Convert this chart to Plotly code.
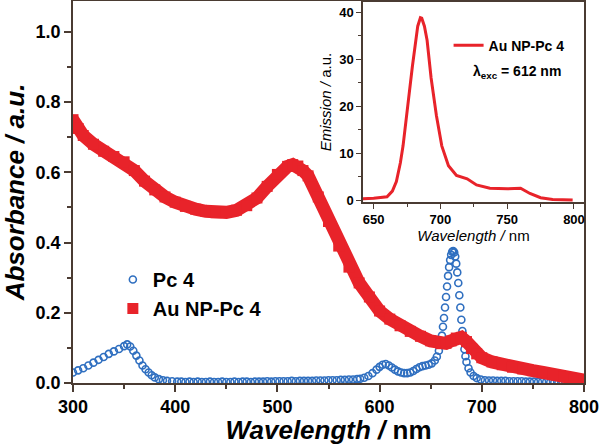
import plotly.graph_objects as go

# ---------------- data ----------------
pc4_wl = [300, 305, 310, 315, 320, 325, 330, 335, 340, 345, 350, 353, 356, 359, 362, 365, 368, 371, 374, 377,
          380, 384, 388, 392, 397, 402, 406, 410, 414, 418, 422, 426, 430, 434, 438, 442, 446, 450, 454, 458,
          462, 466, 470, 474, 478, 482, 486, 490, 494, 498, 502, 506, 510, 514, 518, 522, 526, 530, 534, 538,
          542, 546, 550, 554, 558, 562, 566, 570, 574, 578, 581, 585, 589, 593, 597,
          600, 603, 606, 609, 612, 615, 618, 621, 624, 627, 630, 633, 636, 639, 642, 645, 648, 651, 654, 656,
          658, 660, 661, 662, 663, 664, 665, 666, 667, 668, 669, 670, 671, 672, 673, 674, 675, 676, 677, 678,
          679, 680, 681, 682, 683, 684, 685, 687, 689, 692, 695, 699, 703, 707, 711, 715, 719, 723, 727, 731,
          735, 739, 743, 747, 751, 755, 759, 763, 767, 771, 775, 779]
pc4_abs = [0.030, 0.036, 0.042, 0.050, 0.058, 0.066, 0.074, 0.083, 0.090, 0.097, 0.105, 0.110, 0.104, 0.092, 0.078,
           0.064, 0.050, 0.039, 0.030, 0.022, 0.016, 0.011, 0.008, 0.006, 0.005, 0.004, 0.004, 0.003, 0.004, 0.003,
           0.004, 0.003, 0.003, 0.004, 0.003, 0.003, 0.004, 0.003, 0.003, 0.004, 0.003, 0.004, 0.004, 0.003, 0.004,
           0.004, 0.004, 0.005, 0.004, 0.005, 0.005, 0.005, 0.005, 0.006, 0.005, 0.006, 0.006, 0.006, 0.006, 0.007,
           0.007, 0.007, 0.008, 0.008, 0.008, 0.009, 0.009, 0.010, 0.010, 0.011, 0.012, 0.015, 0.020, 0.028, 0.038,
           0.046, 0.052, 0.054, 0.050, 0.044, 0.038, 0.033, 0.030, 0.028, 0.028, 0.030, 0.034, 0.040, 0.045, 0.048,
           0.050, 0.052, 0.056, 0.064, 0.075, 0.092, 0.115, 0.135, 0.160, 0.185, 0.215, 0.245, 0.275, 0.305, 0.330,
           0.350, 0.365, 0.374, 0.376, 0.372, 0.360, 0.340, 0.315, 0.285, 0.250, 0.215, 0.180, 0.148, 0.120, 0.096,
           0.076, 0.060, 0.042, 0.030, 0.020, 0.014, 0.010, 0.008, 0.007, 0.007, 0.006, 0.006, 0.006, 0.005, 0.005,
           0.005, 0.005, 0.004, 0.004, 0.004, 0.003, 0.003, 0.003, 0.002, 0.002, 0.002, 0.001]

au_wl = [300, 305, 310, 320, 330, 340, 350, 360, 370, 380, 390, 400, 410, 420, 430, 440, 450, 460, 470, 480,
         490, 500, 510, 515, 520, 525, 530, 540, 550, 560, 570, 580, 590, 600, 610, 620, 630, 640, 650, 660,
         665, 670, 675, 680, 685, 690, 695, 700, 710, 720, 730, 740, 750, 760, 770, 780, 790, 800]
au_abs = [0.750, 0.725, 0.705, 0.680, 0.660, 0.645, 0.630, 0.605, 0.575, 0.550, 0.530, 0.515, 0.503, 0.495, 0.489,
          0.485, 0.486, 0.492, 0.505, 0.527, 0.560, 0.594, 0.617, 0.622, 0.618, 0.605, 0.590, 0.530, 0.460, 0.390,
          0.330, 0.285, 0.245, 0.205, 0.182, 0.163, 0.147, 0.133, 0.120, 0.112, 0.113, 0.120, 0.128, 0.130, 0.118,
          0.098, 0.083, 0.072, 0.060, 0.052, 0.045, 0.040, 0.035, 0.030, 0.024, 0.018, 0.012, 0.008]

em_wl = [642, 650, 660, 664, 667, 670, 672, 675, 679, 683, 685, 686, 688, 690, 693, 697, 701, 706, 712, 720,
         727, 737, 750, 760, 767, 775, 784, 799]
em_int = [0.4, 0.5, 0.8, 2.0, 4.0, 8.0, 11.6, 19.4, 28.5, 37.0, 38.8, 38.7, 37.0, 34.0, 26.0, 18.0, 11.6, 7.4, 5.3, 4.6,
          3.3, 2.6, 2.5, 2.6, 1.5, 0.6, 0.2, 0.1]

main_xticks = [300, 400, 500, 600, 700, 800]
main_yticks = [0.0, 0.2, 0.4, 0.6, 0.8, 1.0]
inset_xticks = [650, 700, 750, 800]
inset_yticks = [0, 10, 20, 30, 40]

RED = "#e8232a"
BLUE = "#2f6fc0"
AXC = "#4a3b32"
FONT = "Liberation Sans, Arial, sans-serif"

fig = go.Figure()

# main panel
fig.add_trace(go.Scatter(x=pc4_wl, y=pc4_abs, mode="markers", name="<b>Pc 4</b>",
                         marker=dict(symbol="circle-open", size=7, color=BLUE, line=dict(width=1.6, color=BLUE)),
                         xaxis="x", yaxis="y", legend="legend"))
fig.add_trace(go.Scatter(x=au_wl, y=au_abs, mode="lines", showlegend=False,
                         line=dict(color=RED, width=13), xaxis="x", yaxis="y"))
fig.add_trace(go.Scatter(x=au_wl, y=au_abs, mode="markers", name="<b>Au NP-Pc 4</b>",
                         marker=dict(symbol="square", size=11, color=RED),
                         xaxis="x", yaxis="y", legend="legend"))

# inset
fig.add_trace(go.Scatter(x=em_wl, y=em_int, mode="lines", name="<b>Au NP-Pc 4</b>",
                         line=dict(color=RED, width=3), xaxis="x2", yaxis="y2", legend="legend2"))

axis_common = dict(showline=True, linecolor=AXC, linewidth=1.5, mirror=True, showgrid=False,
                   zeroline=False, ticks="outside", tickcolor=AXC)

fig.update_layout(
    width=601, height=445,
    margin=dict(l=73, r=17, t=1, b=62, autoexpand=False),
    paper_bgcolor="white", plot_bgcolor="white",
    font=dict(family=FONT, color="black"),
    xaxis=dict(**axis_common, range=[300, 800], tickvals=main_xticks, ticklen=7, tickwidth=1.5,
               minor=dict(ticks="outside", ticklen=4, tickwidth=1.5, dtick=50, tickcolor=AXC),
               tickfont=dict(size=18, family=FONT, weight="bold"),
               title=dict(text="<b><i>Wavelength /</i> nm</b>", font=dict(size=26, family=FONT), standoff=8),
               domain=[0, 1], anchor="y"),
    yaxis=dict(**axis_common, range=[0, 1.088], tickvals=main_yticks, tickformat=".1f", ticklen=7, tickwidth=1.5,
               minor=dict(ticks="outside", ticklen=4, tickwidth=1.5, dtick=0.1, tickcolor=AXC),
               tickfont=dict(size=18, family=FONT, weight="bold"),
               title=dict(text="<b><i>Absorbance / a.u.</i></b>", font=dict(size=26, family=FONT), standoff=6),
               domain=[0, 1], anchor="x"),
    xaxis2=dict(**axis_common, range=[642, 807.5], tickvals=inset_xticks, ticklen=5, tickwidth=1.2,
                minor=dict(ticks="outside", ticklen=3, dtick=25, tickcolor=AXC),
                tickfont=dict(size=13, family=FONT, weight="bold"),
                title=dict(text="<i>Wavelength /</i> nm", font=dict(size=15, family=FONT), standoff=2),
                domain=[0.5675, 1.0], anchor="y2"),
    yaxis2=dict(**axis_common, range=[-0.3, 42.1], tickvals=inset_yticks, ticklen=5, tickwidth=1.2,
                minor=dict(ticks="outside", ticklen=3, dtick=5, tickcolor=AXC),
                tickfont=dict(size=13, family=FONT, weight="bold"),
                title=dict(text="<i>Emission /</i> a.u.", font=dict(size=15, family=FONT), standoff=4),
                domain=[0.474, 0.997], anchor="x2"),
    legend=dict(x=0.078, y=0.322, xanchor="left", yanchor="top", bgcolor="rgba(0,0,0,0)",
                font=dict(size=20, family=FONT), itemwidth=30, tracegroupgap=0),
    legend2=dict(x=0.735, y=0.925, xanchor="left", yanchor="top", bgcolor="rgba(0,0,0,0)",
                 font=dict(size=14, family=FONT), itemwidth=30),
    annotations=[dict(text="<b>λ<sub>exc</sub> = 612 nm</b>", xref="paper", yref="paper",
                      x=0.868, y=0.814, xanchor="center", yanchor="middle", showarrow=False,
                      font=dict(size=14, family=FONT, color="black"))],
)

fig.write_html("out.html", config={"displayModeBar": False},
               post_script="document.body.style.margin='0';document.body.style.overflow='hidden';")
